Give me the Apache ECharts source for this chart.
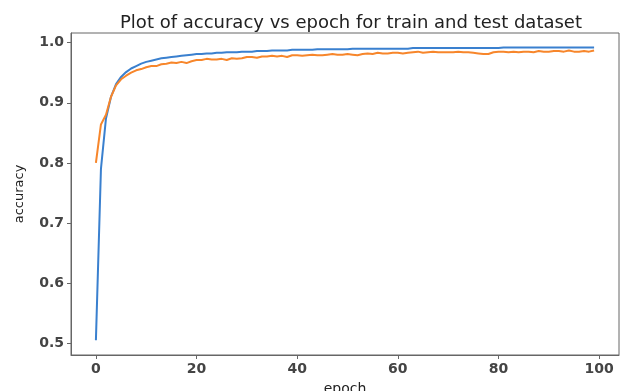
<!DOCTYPE html>
<html>
<head>
<meta charset="utf-8">
<script src="https://cdn.jsdelivr.net/npm/echarts@6/dist/echarts.min.js"></script>
<style>html,body{margin:0;padding:0;background:#fff;}#c{width:622px;height:391px;}</style>
</head>
<body>
<div id="c"></div>
<script>
const epochs = [0,1,2,3,4,5,6,7,8,9,10,11,12,13,14,15,16,17,18,19,20,21,22,23,24,25,26,27,28,29,30,31,32,33,34,35,36,37,38,39,40,41,42,43,44,45,46,47,48,49,50,51,52,53,54,55,56,57,58,59,60,61,62,63,64,65,66,67,68,69,70,71,72,73,74,75,76,77,78,79,80,81,82,83,84,85,86,87,88,89,90,91,92,93,94,95,96,97,98,99];
const trainAcc = [0.505,0.790,0.874,0.910,0.931,0.943,0.951,0.957,0.961,0.965,
  0.968,0.970,0.972,0.974,0.975,0.976,0.977,0.978,0.979,0.980,
  0.981,0.981,0.982,0.982,0.983,0.983,0.984,0.984,0.984,0.985,
  0.985,0.985,0.986,0.986,0.986,0.987,0.987,0.987,0.987,0.988,
  0.988,0.988,0.988,0.988,0.989,0.989,0.989,0.989,0.989,0.989,
  0.989,0.990,0.990,0.990,0.990,0.990,0.990,0.990,0.990,0.990,
  0.990,0.990,0.990,0.991,0.991,0.991,0.991,0.991,0.991,0.991,
  0.991,0.991,0.991,0.991,0.991,0.991,0.991,0.991,0.991,0.991,
  0.991,0.992,0.992,0.992,0.992,0.992,0.992,0.992,0.992,0.992,
  0.992,0.992,0.992,0.992,0.992,0.992,0.992,0.992,0.992,0.992];
const testAcc = [0.800,0.864,0.880,0.910,0.929,0.939,0.945,0.950,0.954,0.956,
  0.959,0.961,0.961,0.964,0.965,0.967,0.966,0.968,0.966,0.969,
  0.971,0.971,0.973,0.972,0.972,0.973,0.971,0.974,0.973,0.974,
  0.976,0.976,0.975,0.977,0.977,0.978,0.977,0.978,0.976,0.979,
  0.979,0.978,0.979,0.980,0.979,0.979,0.980,0.981,0.980,0.980,
  0.981,0.980,0.979,0.981,0.982,0.981,0.983,0.982,0.982,0.983,
  0.983,0.982,0.983,0.984,0.985,0.983,0.984,0.985,0.984,0.984,
  0.984,0.984,0.985,0.984,0.984,0.983,0.982,0.981,0.981,0.984,
  0.985,0.985,0.984,0.985,0.984,0.985,0.985,0.984,0.986,0.985,
  0.985,0.986,0.986,0.985,0.987,0.985,0.985,0.986,0.985,0.987];
const xTicks = [0,20,40,60,80,100];
const yTicks = [0.5,0.6,0.7,0.8,0.9,1.0];

const chart = echarts.init(document.getElementById('c'), null, {renderer:'canvas'});
const tickFont = {fontFamily:'DejaVu Sans', fontSize:14, color:'#444', fontWeight:'bold'};
chart.setOption({
  animation:false,
  backgroundColor:'#fff',
  title:{text:'Plot of accuracy vs epoch for train and test dataset', left:346, textAlign:'center', top:9,
    textStyle:{fontFamily:'DejaVu Sans', fontSize:18, fontWeight:'normal', color:'#222'}},
  grid:{left:71, top:33, right:3, bottom:36, outerBoundsMode:'none', containLabel:false, show:true, borderColor:'#666', borderWidth:1},
  xAxis:{type:'value', min:-4.95, max:103.95,
    name:'epoch', nameLocation:'middle', nameGap:27, nameTextStyle:{fontFamily:'DejaVu Sans', fontSize:14, color:'#222'},
    axisLine:{show:true, onZero:false, lineStyle:{color:'#666'}},
    axisTick:{show:true, customValues:xTicks, length:4, lineStyle:{color:'#666'}},
    axisLabel:Object.assign({customValues:xTicks, margin:7}, tickFont),
    splitLine:{show:false}},
  yAxis:{type:'value', min:0.4806, max:1.016,
    name:'accuracy', nameLocation:'middle', nameGap:45, nameTextStyle:{fontFamily:'DejaVu Sans', fontSize:13, color:'#222'},
    axisLine:{show:true, onZero:false, lineStyle:{color:'#666'}},
    axisTick:{show:true, customValues:yTicks, length:4, lineStyle:{color:'#666'}},
    axisLabel:Object.assign({customValues:yTicks, margin:7, formatter:v=>v.toFixed(1)}, tickFont),
    splitLine:{show:false}},
  series:[
    {type:'line', name:'train', data:epochs.map((e,i)=>[e,trainAcc[i]]), showSymbol:false, lineStyle:{color:'#3a80cf', width:2}, itemStyle:{color:'#3a80cf'}},
    {type:'line', name:'test', data:epochs.map((e,i)=>[e,testAcc[i]]), showSymbol:false, lineStyle:{color:'#f7862b', width:2}, itemStyle:{color:'#f7862b'}}
  ]
});
</script>
</body>
</html>
